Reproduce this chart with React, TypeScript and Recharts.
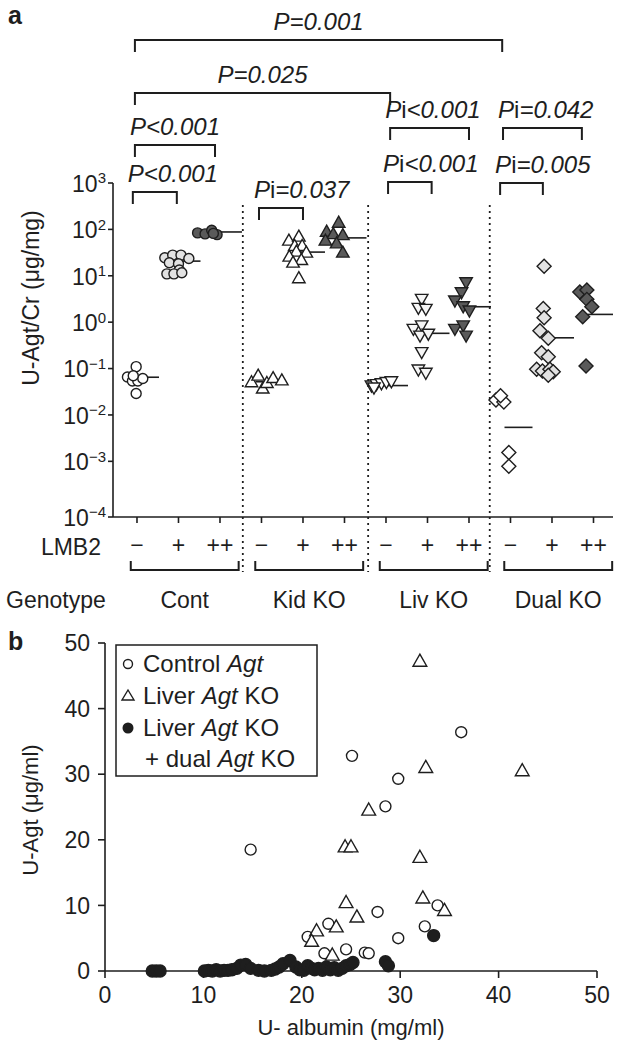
import React from "react";
import { ScatterChart, Scatter, XAxis, YAxis } from "recharts";

const FONT = "'Liberation Sans', Arial, Helvetica, sans-serif";
const INK = "#1e1e1e";
const LIGHT = "#e2e2e2";
const DARK = "#5a5a5a";

// ---------- panel a ----------
const LMB2_LABELS = ["\u2212", "+", "++", "\u2212", "+", "++", "\u2212", "+", "++", "\u2212", "+", "++"];
const GENOTYPES = ["Cont", "Kid KO", "Liv KO", "Dual KO"];
const A_TICKS = [1e-3, 1e-2, 1e-1, 1, 10, 100, 1000];
const A_FLOOR = Math.pow(10, -4.2); // bottom of the axis, labelled 10^-4
const MEDIANS = [0.065, 20.7, 88, 0.052, 32.4, 65.6, 0.043, 0.575, 2.15, 0.0054, 0.46, 1.47];

// [offset from its column, U-Agt/Cr]
const CONT_NEG = [[-0.02, 0.11], [-0.23, 0.066], [-0.11, 0.054], [0.02, 0.054], [0.14, 0.061], [-0.09, 0.07], [-0.02, 0.029]];
const CONT_LMB = [[-0.33, 24.4], [-0.14, 27.9], [0.06, 27.9], [0.25, 23.5], [-0.22, 19.1], [0, 18.1], [0.02, 13.3], [-0.28, 11.0], [-0.11, 11.0], [0.08, 11.6]];
const CONT_HI = [[-0.54, 84], [-0.36, 80], [-0.2, 96], [-0.07, 77], [-0.16, 82]];
const KID_NEG = [[-0.24, 0.052], [-0.08, 0.072], [0.03, 0.038], [0.13, 0.05], [0.28, 0.064], [0.49, 0.057]];
const KID_LMB = [[-0.34, 58.6], [-0.1, 71.5], [-0.2, 44.9], [-0.02, 44.9], [-0.16, 34], [0.08, 32.4], [-0.33, 26.5], [-0.04, 22.4], [-0.24, 19.7], [-0.1, 9.1]];
const KID_HI = [[-0.43, 91.5], [-0.14, 143], [-0.27, 81], [-0.04, 77], [-0.46, 58.6], [-0.19, 51.3], [-0.04, 32.4]];
const LIV_NEG = [[-0.35, 0.042], [-0.23, 0.045], [-0.11, 0.047], [0.01, 0.05], [0.13, 0.052], [-0.29, 0.038]];
const LIV_LMB = [[-0.14, 3.1], [-0.22, 1.98], [-0.04, 1.89], [-0.34, 0.7], [-0.14, 0.83], [-0.18, 0.5], [0.02, 0.55], [-0.14, 0.22], [-0.22, 0.093], [-0.04, 0.079]];
const LIV_HI = [[-0.07, 7.07], [-0.18, 4.3], [-0.34, 2.86], [-0.14, 2.15], [0.01, 1.74], [-0.34, 0.7], [-0.14, 0.83], [-0.07, 0.5]];
const DUAL_NEG = [[-0.35, 0.021], [-0.16, 0.019], [-0.24, 0.026], [-0.04, 0.00155], [-0.04, 0.00078]];
const DUAL_LMB = [[-0.19, 16.1], [-0.21, 1.98], [-0.19, 1.25], [-0.29, 0.65], [-0.09, 0.45], [-0.25, 0.22], [-0.09, 0.18], [-0.37, 0.097], [-0.23, 0.089], [-0.05, 0.097], [0.03, 0.085], [-0.09, 0.072]];
const DUAL_HI = [[-0.33, 4.46], [-0.16, 4.92], [-0.16, 3.1], [-0.04, 2.15], [-0.26, 1.31], [-0.18, 0.114]];

const COLUMNS = [CONT_NEG, CONT_LMB, CONT_HI, KID_NEG, KID_LMB, KID_HI, LIV_NEG, LIV_LMB, LIV_HI, DUAL_NEG, DUAL_LMB, DUAL_HI];
const GROUP_SHAPES = ["circle", "triangle", "down", "diamond"];
const COLUMN_FILLS = ["#ffffff", LIGHT, DARK, "#ffffff", "#ffffff", DARK, "#ffffff", "#f6f6f6", DARK, "#ffffff", LIGHT, DARK];

// ---------- panel b ----------
// [U-albumin, U-Agt]
const CONTROL_AGT = [[14.8, 18.5], [25.1, 32.8], [36.2, 36.4], [29.8, 29.3], [28.5, 25.1], [22.7, 7.2], [20.6, 5.2], [22.3, 2.7], [24.5, 3.3], [26.4, 2.8], [26.8, 2.7], [27.7, 9.0], [29.8, 5.0], [32.5, 6.8], [33.8, 10.0]];
const LIVER_KO = [[32.0, 47.3], [32.6, 31.1], [42.4, 30.6], [26.8, 24.6], [24.4, 19.0], [25.0, 19.0], [32.0, 17.4], [24.5, 10.5], [25.6, 8.3], [21.5, 6.2], [23.5, 6.8], [21.0, 4.6], [23.1, 2.5], [32.3, 11.2], [34.5, 9.3]];
const LIVER_DUAL_KO = [
  [4.8, 0], [5.2, 0], [5.6, 0],
  [10.1, 0], [10.5, 0.1], [10.9, 0], [11.3, 0.2], [11.7, 0], [12.1, 0.1], [12.5, 0.1], [12.9, 0.2],
  [13.4, 0.4], [13.8, 0.9], [14.3, 1.0], [14.8, 0.4], [15.6, 0.1], [16.2, 0],
  [16.9, 0.1], [17.3, 0.3], [17.7, 0.6], [18.1, 1.1], [18.8, 1.6],
  [19.4, 0.6], [19.8, 0.2], [20.2, 0.1], [20.6, 0.8], [21.0, 0.4], [21.3, 0.2], [21.7, 0.4], [22.1, 0.1],
  [22.5, 0.6], [22.9, 0.2], [23.3, 0.5], [23.7, 0.1], [24.1, 0.4], [24.5, 0.8], [24.9, 1.0], [25.2, 1.3],
  [28.5, 1.4], [28.8, 0.8], [33.4, 5.4],
];
const B_TICKS = [0, 10, 20, 30, 40, 50];

// layout of panel a
const A_LEFT = 113;
const A_WIDTH = 500;
const X_MIN = -0.578;
const X_MAX = 11.47;
const colX = (k: number) => A_LEFT + ((k - X_MIN) / (X_MAX - X_MIN)) * A_WIDTH;
const SEPARATORS = [2.55, 5.57, 8.5];

const P_BRACKETS = [
  { text: "P=0.001", from: -0.05, to: 8.8, y: 40, mid: true },
  { text: "P=0.025", from: -0.05, to: 6.1, y: 93, mid: true },
  { text: "Pi<0.001", from: 6.1, to: 8.0, y: 128 },
  { text: "Pi=0.042", from: 8.82, to: 10.72, y: 128 },
  { text: "P<0.001", from: -0.05, to: 1.88, y: 145 },
  { text: "Pi<0.001", from: 6.05, to: 7.1, y: 182 },
  { text: "Pi=0.005", from: 8.75, to: 9.78, y: 183 },
  { text: "P<0.001", from: -0.1, to: 0.96, y: 192 },
  { text: "Pi=0.037", from: 2.94, to: 4.0, y: 208 },
];

const mark = (kind: string, fill: string, s: number) => (p: any) => {
  const { cx, cy } = p;
  if (cx == null || cy == null) return <g />;
  const st = { fill, stroke: INK, strokeWidth: 1.4 };
  if (kind === "circle") return <circle cx={cx} cy={cy} r={s} {...st} />;
  if (kind === "triangle")
    return <polygon points={`${cx},${cy - s * 1.2} ${cx + s * 1.25},${cy + s} ${cx - s * 1.25},${cy + s}`} {...st} />;
  if (kind === "down")
    return <polygon points={`${cx - s * 1.25},${cy - s} ${cx + s * 1.25},${cy - s} ${cx},${cy + s * 1.2}`} {...st} />;
  return <polygon points={`${cx},${cy - s * 1.4} ${cx + s * 1.4},${cy} ${cx},${cy + s * 1.4} ${cx - s * 1.4},${cy}`} {...st} />;
};

const medianMark = (p: any) => {
  const { cx, cy } = p;
  if (cx == null || cy == null) return <g />;
  return <line x1={cx - 6} x2={cx + 22} y1={cy} y2={cy} stroke={INK} strokeWidth={1.6} />;
};

const PowTick = (p: any) => {
  const v = p.payload.value;
  const e = v < 5e-5 ? -4 : Math.round(Math.log10(v));
  return (
    <text x={p.x} y={p.y} textAnchor="end" fill={INK} fontFamily={FONT} fontSize={23}>
      <tspan dy="0.38em">10</tspan>
      <tspan dy="-0.55em" fontSize={15}>{e < 0 ? "\u2212" + Math.abs(e) : String(e)}</tspan>
    </text>
  );
};

const PLabel = ({ text, x, y, anchor }: { text: string; x: number; y: number; anchor: string }) => {
  const rest = text.startsWith("Pi") ? text.slice(2) : text.slice(1);
  return (
    <text x={x} y={y} textAnchor={anchor as any} fontFamily={FONT} fontSize={24} fill={INK}>
      <tspan fontStyle="italic">P</tspan>
      {text.startsWith("Pi") && <tspan>i</tspan>}
      <tspan fontStyle="italic">{rest}</tspan>
    </text>
  );
};

const Agt = () => <tspan fontStyle="italic">Agt</tspan>;

export default function App() {
  const axisStroke = { stroke: INK, strokeWidth: 1.6 };
  return (
    <div style={{ position: "absolute", left: 0, top: 0, width: 617, height: 1050, background: "#fff" }}>
      <div style={{ position: "absolute", left: 0, top: 0 }}>
        <ScatterChart width={617} height={625} margin={{ top: 183, right: 4, bottom: 68, left: 53 }}>
          <XAxis
            type="number"
            dataKey="x"
            domain={[X_MIN, X_MAX]}
            allowDataOverflow
            ticks={LMB2_LABELS.map((_, i) => i)}
            tickFormatter={(v: number) => LMB2_LABELS[Math.round(v)] ?? ""}
            height={40}
            tickSize={6}
            tickMargin={14}
            axisLine={axisStroke}
            tickLine={axisStroke}
            tick={{ fill: INK, fontSize: 23, fontFamily: FONT }}
          />
          <YAxis
            type="number"
            dataKey="y"
            scale="log"
            domain={[A_FLOOR, 1000]}
            allowDataOverflow
            ticks={[A_FLOOR, ...A_TICKS]}
            width={60}
            tickSize={5}
            axisLine={axisStroke}
            tickLine={axisStroke}
            tick={<PowTick />}
          />
          <Scatter
            data={MEDIANS.map((v, k) => ({ x: k, y: v }))}
            shape={medianMark}
            isAnimationActive={false}
          />
          {COLUMNS.map((pts, k) => (
            <Scatter
              key={k}
              data={pts.map(([dx, v]) => ({ x: k + dx, y: v }))}
              shape={mark(GROUP_SHAPES[Math.floor(k / 3)], COLUMN_FILLS[k], 5)}
              isAnimationActive={false}
            />
          ))}
        </ScatterChart>
      </div>

      <div style={{ position: "absolute", left: 0, top: 620 }}>
        <ScatterChart width={617} height={430} margin={{ top: 23, right: 20, bottom: 29, left: 55 }}>
          <XAxis
            type="number"
            dataKey="x"
            domain={[0, 50]}
            ticks={B_TICKS}
            height={50}
            tickSize={7}
            tickMargin={9}
            axisLine={axisStroke}
            tickLine={axisStroke}
            tick={{ fill: INK, fontSize: 23, fontFamily: FONT }}
          />
          <YAxis
            type="number"
            dataKey="y"
            domain={[0, 50]}
            ticks={B_TICKS}
            width={50}
            tickSize={7}
            tickMargin={8}
            axisLine={axisStroke}
            tickLine={axisStroke}
            tick={{ fill: INK, fontSize: 23, fontFamily: FONT }}
          />
          <Scatter
            data={LIVER_DUAL_KO.map(([x, y]) => ({ x, y }))}
            shape={mark("circle", INK, 6)}
            isAnimationActive={false}
          />
          <Scatter
            data={CONTROL_AGT.map(([x, y]) => ({ x, y }))}
            shape={mark("circle", "#ffffff", 5.5)}
            isAnimationActive={false}
          />
          <Scatter
            data={LIVER_KO.map(([x, y]) => ({ x, y }))}
            shape={mark("triangle", "#ffffff", 5.5)}
            isAnimationActive={false}
          />
        </ScatterChart>
      </div>

      <svg
        width={617}
        height={1050}
        style={{ position: "absolute", left: 0, top: 0, pointerEvents: "none" }}
        fontFamily={FONT}
        fill={INK}
      >
        {/* panel a */}
        <text x={8} y={24} fontSize={25} fontWeight="bold">a</text>
        {P_BRACKETS.map((b, i) => {
          const x1 = colX(b.from);
          const x2 = colX(b.to);
          return (
            <g key={i}>
              <path d={`M${x1},${b.y + 12} V${b.y} H${x2} V${b.y + 12}`} fill="none" stroke={INK} strokeWidth={2} />
              <PLabel text={b.text} x={b.mid ? (x1 + x2) / 2 : x1 - 5} y={b.y - 10} anchor={b.mid ? "middle" : "start"} />
            </g>
          );
        })}
        {SEPARATORS.map((s, i) => (
          <line key={i} x1={colX(s)} x2={colX(s)} y1={205} y2={572} stroke={INK} strokeWidth={1.8} strokeDasharray="2 4" />
        ))}
        <text x={31} y={298} fontSize={23} textAnchor="middle" dominantBaseline="central" transform="rotate(-90 31 298)">
          U-Agt/Cr (μg/mg)
        </text>
        <text x={101} y={555} fontSize={23} textAnchor="end">LMB2</text>
        {GENOTYPES.map((g, i) => {
          const x1 = colX(i * 3 - 0.15);
          const x2 = colX(i * 3 + 2.45);
          return (
            <g key={g}>
              <path d={`M${x1},${561} V${570} H${x2} V${561}`} fill="none" stroke={INK} strokeWidth={2} />
              <text x={(x1 + x2) / 2} y={608} fontSize={23} textAnchor="middle">{g}</text>
            </g>
          );
        })}
        <text x={6} y={608} fontSize={23}>Genotype</text>

        {/* panel b */}
        <text x={8} y={650} fontSize={25} fontWeight="bold">b</text>
        <text x={30} y={810} fontSize={22} textAnchor="middle" dominantBaseline="central" transform="rotate(-90 30 810)">
          U-Agt (μg/ml)
        </text>
        <text x={351} y={1035} fontSize={22} textAnchor="middle">U- albumin (mg/ml)</text>
        <rect x={116} y={645} width={201} height={131} fill="#fff" stroke={INK} strokeWidth={1.5} />
        <circle cx={128} cy={664} r={4.5} fill="#fff" stroke={INK} strokeWidth={1.4} />
        <text x={143} y={672} fontSize={24}>Control <Agt /></text>
        <polygon points="128,690 134,700 122,700" fill="#fff" stroke={INK} strokeWidth={1.4} />
        <text x={143} y={704} fontSize={24}>Liver <Agt /> KO</text>
        <circle cx={128} cy={728} r={5.5} fill={INK} />
        <text x={143} y={736} fontSize={24}>Liver <Agt /> KO</text>
        <text x={145} y={767} fontSize={24}>+ dual <Agt /> KO</text>
      </svg>
    </div>
  );
}
